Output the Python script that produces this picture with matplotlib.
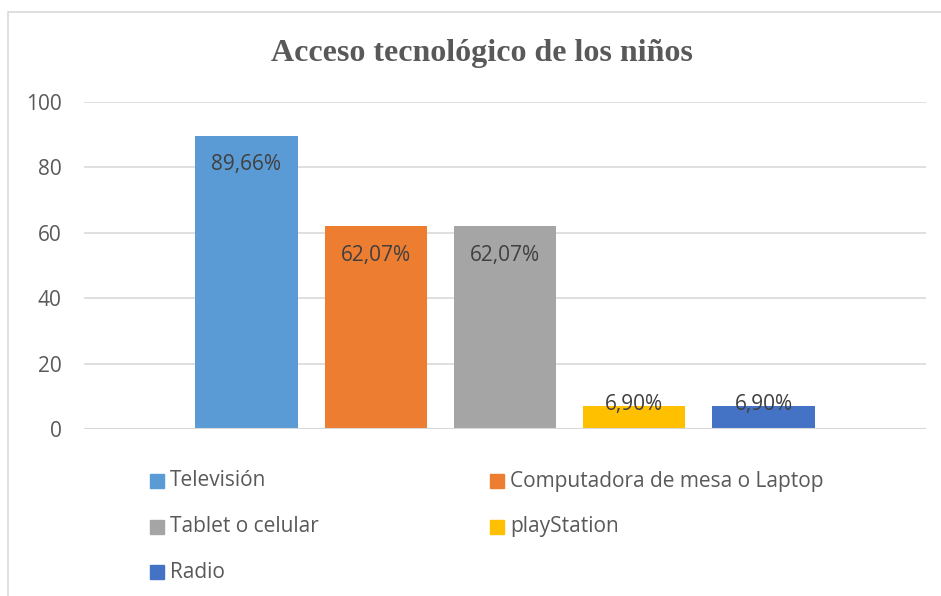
import matplotlib
matplotlib.use("Agg")
import matplotlib.pyplot as plt
from matplotlib.patches import Rectangle

# data
series = ["Televisión", "Computadora de mesa o Laptop", "Tablet o celular",
          "playStation", "Radio"]
values = [89.66, 62.07, 62.07, 6.90, 6.90]
labels = ["89,66%", "62,07%", "62,07%", "6,90%", "6,90%"]
colors = ["#5B9BD5", "#ED7D31", "#A5A5A5", "#FFC000", "#4472C4"]
yticks = [0, 20, 40, 60, 80, 100]

W, H = 941, 596
TXT = "#595959"
GRID = "#D9D9D9"
FONT = "Open Sans"

fig = plt.figure(figsize=(W / 100, H / 100), dpi=100)

# outer chart border (only left and top visible in the reference)
fig.patches.append(Rectangle((8 / W, -0.05), 1.1, (H - 12) / H + 0.05,
                             transform=fig.transFigure, fill=False,
                             edgecolor=GRID, linewidth=1.2))

ax = fig.add_axes([84 / W, (H - 429) / H, (926 - 84) / W, (429 - 102) / H])
x = list(range(len(values)))
ax.bar(x, values, width=102 / 129, color=colors, zorder=2)
ax.set_xlim(-1.256, len(values) - 1 + 1.256)
ax.set_ylim(0, 100)
ax.set_yticks(yticks)
ax.set_yticklabels([str(t) for t in yticks], fontsize=15, color=TXT, family=FONT)
ax.tick_params(axis="y", length=0, pad=16)
ax.set_xticks([])
ax.grid(axis="y", color=GRID, linewidth=1.2, zorder=0)
for s in ax.spines.values():
    s.set_visible(False)
ax.axhline(0, color=GRID, linewidth=1.5, zorder=3)

for xi, v, lab in zip(x, values, labels):
    off = -29 if v > 20 else 2
    ax.annotate(lab, (xi, v), xytext=(0, off * 0.72), textcoords="offset points",
                ha="center", va="center", fontsize=15, color="#404040",
                family=FONT, zorder=4, annotation_clip=False)

fig.text(482 / W, 1 - 54 / H, "Acceso tecnológico de los niños",
         ha="center", va="center", fontsize=23, fontweight="bold",
         color=TXT, family="Liberation Serif")

# legend, row-major in two columns like the original
for i, (name, c) in enumerate(zip(series, colors)):
    row, col = divmod(i, 2)
    mx = 150 + col * 340
    my = 481 + row * 45.5
    fig.patches.append(Rectangle((mx / W, 1 - (my + 7) / H), 14 / W, 14 / H,
                                 transform=fig.transFigure, color=c))
    fig.text((mx + 20) / W, 1 - my / H, name, ha="left", va="center",
             fontsize=15, color=TXT, family=FONT)

fig.savefig("out.png", dpi=100)
